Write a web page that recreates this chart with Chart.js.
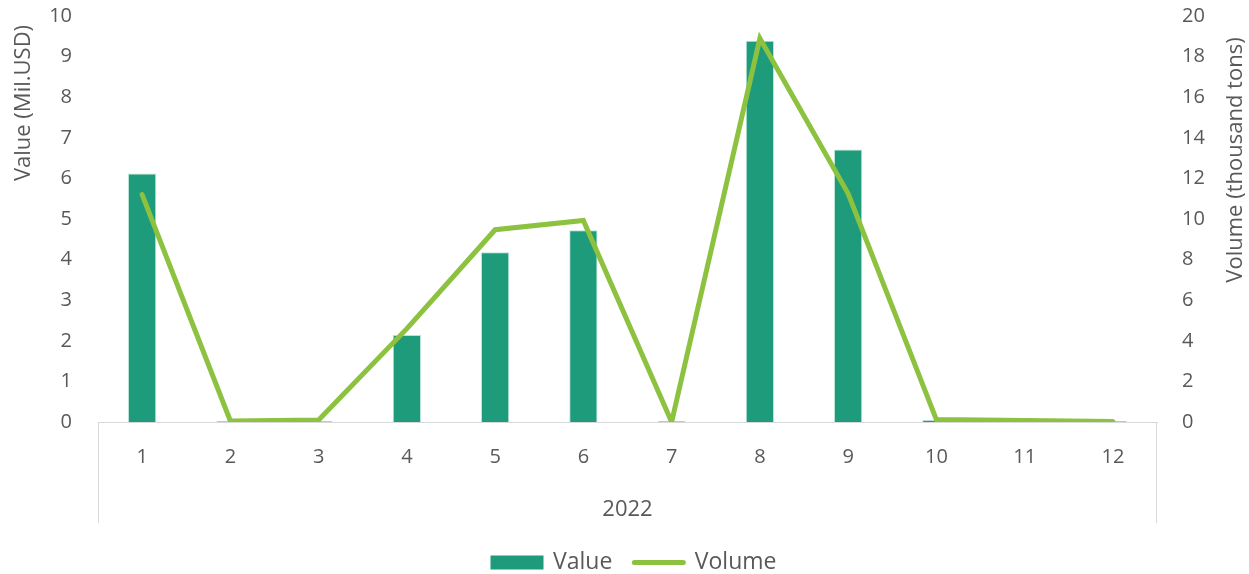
<!DOCTYPE html>
<html>
<head>
<meta charset="utf-8">
<script src="https://cdn.jsdelivr.net/npm/chart.js@4/dist/chart.umd.min.js"></script>
<style>
  html, body { margin: 0; padding: 0; background: #ffffff; }
  #wrap { width: 1249px; height: 574px; position: relative; }
</style>
</head>
<body>
<div id="wrap"><canvas id="c"></canvas></div>
<script>
const categories = ['1', '2', '3', '4', '5', '6', '7', '8', '9', '10', '11', '12'];
const groupLabel = '2022';
const valueSeries = [6.12, 0.02, 0.02, 2.14, 4.18, 4.72, 0.02, 9.39, 6.71, 0.05, 0.02, 0.02];
const volumeSeries = [11.2, 0.05, 0.1, 4.6, 9.47, 9.93, 0.0, 18.9, 11.25, 0.12, 0.07, 0.03];
const leftTitle = 'Value (Mil.USD)';
const rightTitle = 'Volume (thousand tons)';

const TEXT = '#595959';
const GRID = '#D9D9D9';
const BAR = '#1E9B7A';
const LINE = '#8CC23F';
const FAMILY = '"Open Sans", Lato, sans-serif';
const TICK_FONT = { family: FAMILY, size: 20 };
const TITLE_FONT = { family: FAMILY, size: 22 };
const LEGEND_FONT = { family: FAMILY, size: 23 };
const GROUP_FONT = { family: FAMILY, size: 22 };
const AXIS_BOX_DEPTH = 101;

const boxLines = {
  id: 'boxLines',
  afterDraw(chart) {
    const { ctx, chartArea } = chart;
    ctx.save();
    ctx.strokeStyle = GRID;
    ctx.lineWidth = 1;
    ctx.beginPath();
    ctx.moveTo(Math.round(chartArea.left) + 0.5, chartArea.bottom);
    ctx.lineTo(Math.round(chartArea.left) + 0.5, chartArea.bottom + AXIS_BOX_DEPTH);
    ctx.moveTo(Math.round(chartArea.right) - 0.5, chartArea.bottom);
    ctx.lineTo(Math.round(chartArea.right) - 0.5, chartArea.bottom + AXIS_BOX_DEPTH);
    ctx.stroke();

    // axis titles (both read bottom-to-top, as in the reference)
    ctx.fillStyle = TEXT;
    ctx.textAlign = 'center';
    ctx.textBaseline = 'middle';
    ctx.font = `${TITLE_FONT.size}px ${FAMILY}`;
    const yr = chart.scales.y1;
    ctx.translate(24, chartArea.top + 87);
    ctx.rotate(-Math.PI / 2);
    ctx.fillText(leftTitle, 0, 0);
    ctx.setTransform(1, 0, 0, 1, 0, 0);
    ctx.translate(yr.right - 13, chartArea.top + 144);
    ctx.rotate(-Math.PI / 2);
    ctx.fillText(rightTitle, 0, 0);
    ctx.restore();
  }
};

new Chart(document.getElementById('c'), {
  data: {
    labels: categories,
    datasets: [
      {
        type: 'line',
        label: 'Volume',
        data: volumeSeries,
        yAxisID: 'y1',
        borderColor: LINE,
        backgroundColor: LINE,
        borderWidth: 5,
        pointRadius: 0,
        pointHoverRadius: 0,
        tension: 0,
        borderCapStyle: 'round',
        borderJoinStyle: 'miter',
        order: 0
      },
      {
        type: 'bar',
        label: 'Value',
        data: valueSeries,
        yAxisID: 'y',
        backgroundColor: BAR,
        borderColor: '#B9E3D5',
        borderWidth: 1,
        categoryPercentage: 0.32,
        barPercentage: 1,
        order: 1
      }
    ]
  },
  options: {
    responsive: true,
    maintainAspectRatio: false,
    animation: false,
    layout: { padding: { top: 16, bottom: -10, left: 20, right: 0 } },
    plugins: {
      tooltip: { enabled: false },
      legend: {
        position: 'bottom',
        reverse: true,
        labels: {
          color: TEXT,
          font: LEGEND_FONT,
          usePointStyle: true,
          pointStyleWidth: 49,
          boxHeight: 10,
          padding: 22,
          generateLabels(chart) {
            return chart.data.datasets.map((ds, i) => ({
              text: ds.label,
              fillStyle: ds.type === 'bar' ? BAR : LINE,
              strokeStyle: ds.type === 'bar' ? BAR : LINE,
              lineWidth: ds.type === 'bar' ? 4 : 5,
              lineCap: ds.type === 'bar' ? 'butt' : 'round',
              lineJoin: 'miter',
              pointStyle: ds.type === 'bar' ? 'rect' : 'line',
              fontColor: TEXT,
              hidden: false,
              datasetIndex: i
            }));
          }
        }
      }
    },
    scales: {
      x: {
        offset: true,
        grid: { display: false, drawTicks: false },
        border: { display: true, color: GRID, width: 1 },
        ticks: { color: TEXT, font: TICK_FONT, padding: 23, maxRotation: 0 },
        title: { display: true, text: groupLabel, color: TEXT, font: GROUP_FONT, padding: { top: 0, bottom: 6 } },
        afterFit(scale) { scale.height = 107; }
      },
      y: {
        position: 'left',
        min: 0, max: 10,
        grid: { display: false, drawTicks: true, tickLength: 26 },
        border: { display: false },
        ticks: { stepSize: 1, color: TEXT, font: TICK_FONT, padding: 0 },
        afterFit(scale) { scale.width = 78; }
      },
      y1: {
        position: 'right',
        min: 0, max: 20,
        grid: { display: false, drawTicks: true, tickLength: 25 },
        border: { display: false },
        ticks: { stepSize: 2, color: TEXT, font: TICK_FONT, padding: 0 },
        afterFit(scale) { scale.width = 92; }
      }
    }
  },
  plugins: [boxLines]
});
</script>
</body>
</html>
